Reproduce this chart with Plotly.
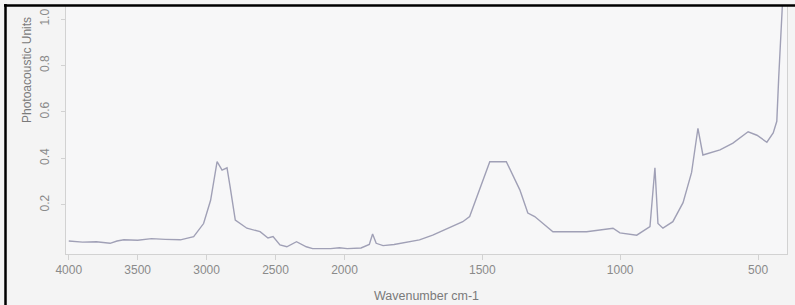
import plotly.graph_objects as go

# Wavenumber (cm-1) and photoacoustic signal
wavenumber = [4000, 3900, 3800, 3700, 3650, 3600, 3500, 3400, 3300, 3190,
              3094, 3022, 2971, 2924, 2888, 2852, 2830, 2792, 2708, 2612,
              2555, 2518, 2468, 2418, 2348, 2277, 2231, 2100, 2037, 1990,
              1940, 1910, 1898, 1885, 1860, 1820, 1728, 1680, 1571, 1546,
              1473, 1413, 1364, 1335, 1310, 1267, 1244, 1122, 1026, 1001,
              940, 892, 874, 863, 845, 809, 772, 741, 718, 700,
              638, 591, 536, 504, 468, 445, 432, 425, 418, 410]
signal = [0.045, 0.040, 0.042, 0.035, 0.045, 0.050, 0.048, 0.055, 0.052, 0.050,
          0.064, 0.120, 0.220, 0.386, 0.350, 0.360, 0.280, 0.135, 0.100, 0.085,
          0.058, 0.064, 0.028, 0.020, 0.042, 0.020, 0.012, 0.012, 0.016, 0.012,
          0.015, 0.030, 0.075, 0.035, 0.025, 0.030, 0.050, 0.070, 0.128, 0.150,
          0.386, 0.386, 0.265, 0.165, 0.150, 0.107, 0.085, 0.085, 0.100, 0.080,
          0.070, 0.107, 0.360, 0.120, 0.100, 0.128, 0.210, 0.340, 0.530, 0.415,
          0.437, 0.466, 0.515, 0.500, 0.470, 0.510, 0.560, 0.750, 0.920, 1.100]

x_tick_labels = [4000, 3500, 3000, 2500, 2000, 1500, 1000, 500]
y_tick_values = [0.2, 0.4, 0.6, 0.8, 1.0]


def axis_pos(w):
    # FTIR convention: scale halves above 2000 cm-1
    return w if w <= 2000 else 2000 + (w - 2000) / 2


xs = [axis_pos(w) for w in wavenumber]
tickvals = [axis_pos(w) for w in x_tick_labels]

fig = go.Figure()
fig.add_trace(go.Scatter(x=xs, y=signal, mode="lines",
                         line=dict(color="#a0a0b6", width=1.4),
                         hoverinfo="skip", showlegend=False))

grey = "#8a8a8a"
fig.update_layout(
    width=795, height=305,
    margin=dict(l=66, r=8, t=6, b=51),
    paper_bgcolor="#f4f4f4", plot_bgcolor="#f7f7f8",
    font=dict(family="Liberation Sans, Arial", size=12, color=grey),
    xaxis=dict(range=[3010, 395], tickvals=tickvals,
               ticktext=[str(v) for v in x_tick_labels],
               showgrid=False, zeroline=False, showline=True,
               linecolor="#d2d2d2", linewidth=1,
               ticks="outside", ticklen=5, tickcolor="#d2d2d2",
               tickfont=dict(size=12, color=grey),
               title=dict(text="Wavenumber cm-1", standoff=14,
                          font=dict(size=12.5, color="#7a7a7a"))),
    yaxis=dict(range=[-0.011, 1.056], tickvals=y_tick_values,
               ticktext=["0.2", "0.4", "0.6", "0.8", "1.0"],
               tickangle=-90, ticklabelstandoff=7,
               showgrid=False, zeroline=False, showline=True, mirror=True,
               linecolor="#d2d2d2", linewidth=1,
               ticks="outside", ticklen=4, tickcolor="#d2d2d2",
               tickfont=dict(size=12, color=grey)),
    annotations=[dict(text="Photoacoustic Units", xref="paper", yref="paper",
                      x=(27 - 66) / 721, y=(254 - 70) / 248,
                      xanchor="center", yanchor="middle",
                      textangle=-90, showarrow=False,
                      font=dict(size=12, color="#7a7a7a"))],
    shapes=[
        dict(type="line", xref="paper", yref="paper",
             x0=(5.5 - 66) / 721, x1=(5.5 - 66) / 721,
             y0=(254 - 4) / 248, y1=(254 - 305) / 248,
             line=dict(color="black", width=2.5)),
        dict(type="line", xref="paper", yref="paper",
             x0=(4 - 66) / 721, x1=(795 - 66) / 721,
             y0=(254 - 5.5) / 248, y1=(254 - 5.5) / 248,
             line=dict(color="black", width=2.5)),
    ],
)

fig.write_html("out.html", config={"displayModeBar": False},
               post_script="document.body.style.margin='0px';")
